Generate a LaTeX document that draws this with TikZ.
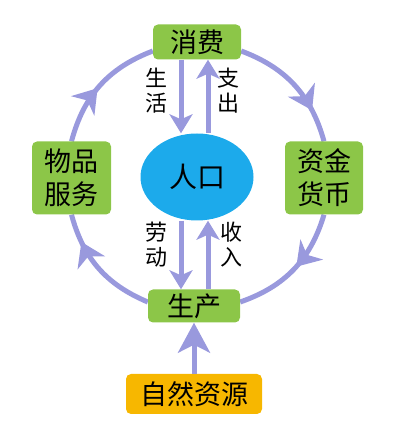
\documentclass[tikz,border=0pt]{standalone}
\usepackage{fontspec}
\setmainfont{Noto Sans CJK SC}
\usetikzlibrary{shapes,arrows.meta,positioning,decorations.markings,backgrounds}

\definecolor{boxgreen}{RGB}{140,198,72}
\definecolor{popblue}{RGB}{28,170,235}
\definecolor{srcorange}{RGB}{247,183,0}
\definecolor{flowblue}{RGB}{153,153,221}

\begin{document}
\begin{tikzpicture}[x=1pt,y=1pt,
    greenbox/.style={fill=boxgreen, rounded corners=5pt, minimum width=88pt, minimum height=35pt,
        inner sep=0pt, align=center, font=\fontsize{27}{33}\selectfont},
    flow/.style={draw=flowblue, line width=5pt, -{Stealth[length=19pt,width=23pt,inset=5pt]}},
    ringarc/.style={draw=flowblue, line width=5pt, postaction={decorate},
        decoration={markings, mark=at position #1 with {\arrow{Stealth[length=23pt,width=30pt,inset=7pt]}}}},
    sidelabel/.style={align=center, font=\fontsize{22}{25}\selectfont}]
    \useasboundingbox (0,0) rectangle (403,421);

    % Boxes
    \node[greenbox] (xf) at (197,379) {消费};
    \node[greenbox, minimum width=79pt, minimum height=73pt] (wp) at (71.5,243) {物品\\服务};
    \node[greenbox, minimum width=78pt, minimum height=73pt] (zj) at (324,243) {资金\\货币};
    \node[ellipse, fill=popblue, minimum width=113pt, minimum height=87pt, inner sep=0pt,
        font=\fontsize{28}{30}\selectfont] (rk) at (197,244) {人口};
    \node[greenbox, minimum width=92pt, minimum height=33pt] (sc) at (194,115) {生产};
    \node[greenbox, fill=srcorange, minimum width=136pt, minimum height=40pt] (zr) at (194,27) {自然资源};

    % Outer ring
    \begin{scope}[on background layer]
        \draw[ringarc=0.47] (wp.north) to[bend left=27] ([yshift=-9pt]xf.west);
        \draw[ringarc=0.74] ([yshift=-9pt]xf.east) to[bend left=27] (zj.north);
        \draw[ringarc=0.47] (zj.south) to[bend left=27] ([yshift=4pt]sc.east);
        \draw[ringarc=0.76] ([yshift=4pt]sc.west) to[bend left=26] (wp.south);
    \end{scope}

    % Inner flows
    \draw[flow] ([xshift=-16pt]xf.south) -- ([xshift=-16pt]rk.north);
    \draw[flow] ([xshift=11pt]rk.north) -- ([xshift=11pt]xf.south);
    \draw[flow] ([xshift=-16pt]rk.south) -- ([xshift=-16pt]rk.south |- sc.north);
    \draw[flow] ([xshift=11pt]rk.south |- sc.north) -- ([xshift=11pt]rk.south);
    \draw[flow, -{Stealth[length=30pt,width=32pt,inset=8pt]}] (zr.north) -- (sc.south);

    % Labels
    \node[sidelabel] (shl) at (156,330) {生\\活};
    \node[sidelabel] (zc) at (228,330) {支\\出};
    \node[sidelabel] (ld) at (156,176) {劳\\动};
    \node[sidelabel] (sr) at (231,176) {收\\入};
\end{tikzpicture}
\end{document}
